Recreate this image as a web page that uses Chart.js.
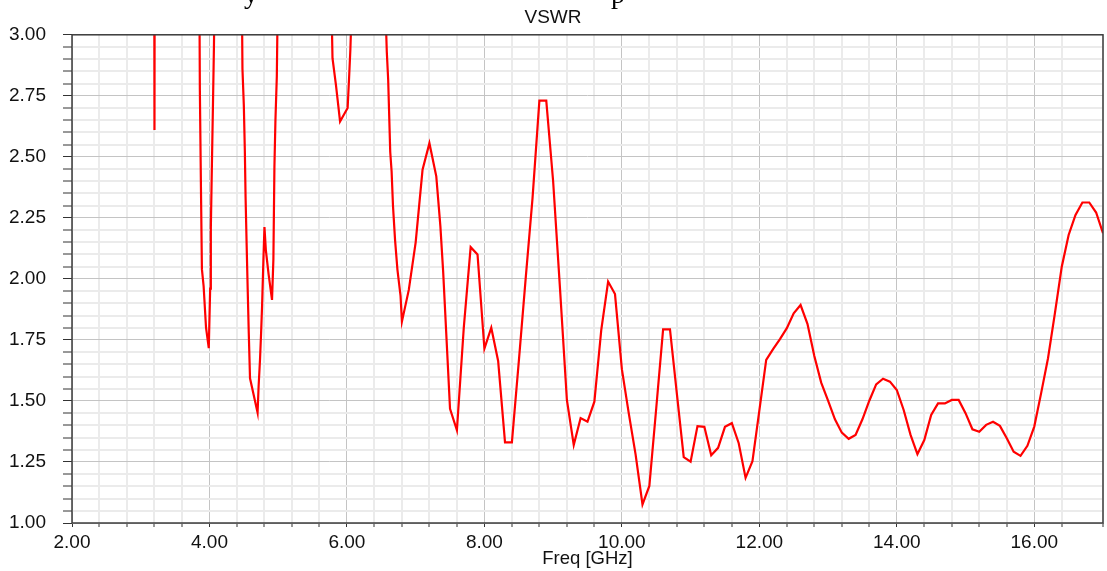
<!DOCTYPE html>
<html>
<head>
<meta charset="utf-8">
<script src="https://cdn.jsdelivr.net/npm/chart.js@4/dist/chart.umd.min.js"></script>
<style>
  html, body { margin: 0; padding: 0; background: #fff; overflow: hidden; }
  #wrap { position: relative; width: 1107px; height: 571px; }
  canvas { position: absolute; left: 0; top: 0; }
  .cut { position: absolute; font: 28px 'Liberation Serif', serif; line-height: 28px; color: #000; white-space: pre; }
</style>
</head>
<body>
<div id="wrap">
  <canvas id="c" width="1107" height="571"></canvas>
  <div class="cut" style="left:244px; top:-20px;">y</div>
  <div class="cut" style="left:611px; top:-20px;">p</div>
</div>
<script>
// ---- data ----
const chartTitle = 'VSWR';
const xAxisTitle = 'Freq [GHz]';
const freqGHz = [
  2.00, 3.00, 3.19, 3.20, 3.21, 3.50, 3.84, 3.86, 3.875, 3.89, 3.915, 3.95, 3.99,
  4.01, 4.02, 4.035, 4.05, 4.065, 4.08, 4.30, 4.47, 4.48, 4.50, 4.515, 4.525, 4.54,
  4.555, 4.572, 4.59, 4.70, 4.715, 4.735, 4.75, 4.765, 4.785, 4.80, 4.82, 4.86, 4.91,
  4.93, 4.945, 4.96, 4.98, 5.00, 5.40, 5.77, 5.79, 5.84, 5.90, 6.01, 6.03, 6.05, 6.09,
  6.30, 6.55, 6.58, 6.60, 6.63, 6.65, 6.67, 6.70, 6.735, 6.78, 6.80, 6.90, 7.00, 7.10,
  7.20, 7.30, 7.36, 7.40, 7.50, 7.60, 7.70, 7.80, 7.90, 8.00, 8.10, 8.20, 8.30, 8.40,
  8.50, 8.60, 8.70, 8.80, 8.90, 9.00, 9.10, 9.20, 9.30, 9.40, 9.50, 9.60, 9.70, 9.80,
  9.90, 10.00, 10.10, 10.20, 10.30, 10.40, 10.50, 10.60, 10.70, 10.80, 10.90, 11.00,
  11.10, 11.20, 11.30, 11.40, 11.50, 11.60, 11.70, 11.80, 11.90, 12.00, 12.10, 12.20,
  12.30, 12.40, 12.50, 12.60, 12.70, 12.80, 12.90, 13.00, 13.10, 13.20, 13.30, 13.40,
  13.50, 13.60, 13.70, 13.80, 13.90, 14.00, 14.10, 14.20, 14.30, 14.40, 14.50, 14.60,
  14.70, 14.80, 14.90, 15.00, 15.10, 15.20, 15.30, 15.40, 15.50, 15.60, 15.70, 15.80,
  15.90, 16.00, 16.10, 16.20, 16.30, 16.40, 16.50, 16.60, 16.70, 16.80, 16.90, 17.00
];
const vswr = [
  9.0, 7.0, 5.0, 2.61, 5.0, 8.0, 4.0, 2.78, 2.40, 2.04, 1.97, 1.80, 1.716,
  1.96, 2.21, 2.46, 2.70, 2.95, 3.3, 6.0, 3.2, 2.86, 2.71, 2.52, 2.34, 2.15,
  1.97, 1.777, 1.593, 1.452, 1.56, 1.668, 1.77, 1.886, 2.08, 2.212, 2.119, 2.02, 1.914,
  2.08, 2.46, 2.652, 2.83, 3.3, 7.0, 3.2, 2.904, 2.795, 2.645, 2.70, 2.816, 2.94, 3.3,
  6.0, 3.2, 2.93, 2.816, 2.52, 2.44, 2.30, 2.16, 2.037, 1.93, 1.825, 1.955, 2.15, 2.447,
  2.556, 2.42, 2.214, 2.03, 1.468, 1.38, 1.80, 2.13, 2.10, 1.714, 1.80, 1.664, 1.33, 1.33,
  1.66, 2.00, 2.33, 2.73, 2.73, 2.40, 1.96, 1.504, 1.32, 1.43, 1.415, 1.497, 1.79, 1.989,
  1.938, 1.63, 1.45, 1.28, 1.076, 1.152, 1.47, 1.793, 1.793, 1.53, 1.27, 1.251,
  1.397, 1.394, 1.278, 1.308, 1.394, 1.409, 1.327, 1.185, 1.253, 1.46, 1.668, 1.712,
  1.753, 1.798, 1.859, 1.893, 1.816, 1.684, 1.575, 1.501, 1.425, 1.37, 1.345, 1.361,
  1.425, 1.501, 1.568, 1.591, 1.579, 1.545, 1.463, 1.361, 1.282, 1.34, 1.443, 1.49,
  1.49, 1.504, 1.504, 1.45, 1.384, 1.374, 1.402, 1.415, 1.398, 1.347, 1.292, 1.275,
  1.316, 1.395, 1.532, 1.675, 1.859, 2.05, 2.18, 2.262, 2.313, 2.313, 2.272, 2.187
];
const xRange = [2, 17];
const yRange = [1, 3];
const xMajorStep = 2, xMinorStep = 0.4;
const yMajorStep = 0.25, yMinorStep = 0.05;

// ---- chart ----
const FONT = "'Liberation Sans', Arial, sans-serif";
const isMult = (v, s) => Math.abs(v / s - Math.round(v / s)) < 1e-6;

const framePlugin = {
  id: 'frame',
  afterDatasetsDraw(chart) {
    const a = chart.chartArea, ctx = chart.ctx;
    ctx.save();
    ctx.strokeStyle = '#3c3c3c';
    ctx.lineWidth = 1.5;
    ctx.strokeRect(a.left, a.top, a.right - a.left, a.bottom - a.top);
    ctx.restore();
  }
};

new Chart(document.getElementById('c'), {
  type: 'line',
  data: {
    datasets: [{
      data: freqGHz.map((f, i) => ({ x: f, y: vswr[i] })),
      borderColor: '#ff0000',
      borderWidth: 2.2,
      pointRadius: 0,
      tension: 0,
      fill: false
    }]
  },
  options: {
    responsive: false,
    animation: false,
    devicePixelRatio: 1,
    layout: { padding: { left: 0, right: 1, top: 0, bottom: 0 } },
    plugins: {
      legend: { display: false },
      tooltip: { enabled: false },
      title: {
        display: true, text: chartTitle, color: '#111',
        font: { family: FONT, size: 19, weight: 'normal' },
        padding: { top: 6, bottom: 6 }
      }
    },
    scales: {
      x: {
        type: 'linear', min: xRange[0], max: xRange[1],
        afterFit: s => { s.height = 48; },
        border: { display: false },
        grid: {
          color: c => isMult(c.tick.value, xMajorStep) ? '#c4c4c4' : '#ebebeb',
          lineWidth: c => isMult(c.tick.value, xMajorStep) ? 1 : 2,
          tickColor: '#333', tickLength: 4, tickWidth: 1
        },
        ticks: {
          stepSize: xMinorStep, autoSkip: false, maxRotation: 0,
          color: '#111', padding: 4,
          font: { family: FONT, size: 19 },
          callback: v => isMult(v, xMajorStep) ? Number(v).toFixed(2) : ''
        },
        title: {
          display: true, text: xAxisTitle, color: '#111',
          font: { family: FONT, size: 18.5 },
          padding: { top: 0, bottom: 1 }
        }
      },
      y: {
        type: 'linear', min: yRange[0], max: yRange[1],
        afterFit: s => { s.width = 72; },
        border: { display: false },
        grid: {
          color: c => isMult(c.tick.value, yMajorStep) ? '#c4c4c4' : '#ebebeb',
          lineWidth: c => isMult(c.tick.value, yMajorStep) ? 1 : 2,
          tickColor: '#333', tickLength: 9, tickWidth: 1
        },
        ticks: {
          stepSize: yMinorStep, autoSkip: false,
          color: '#111', padding: 17,
          font: { family: FONT, size: 19 },
          callback: v => isMult(v, yMajorStep) ? Number(v).toFixed(2) : ''
        }
      }
    }
  },
  plugins: [framePlugin]
});
</script>
</body>
</html>
